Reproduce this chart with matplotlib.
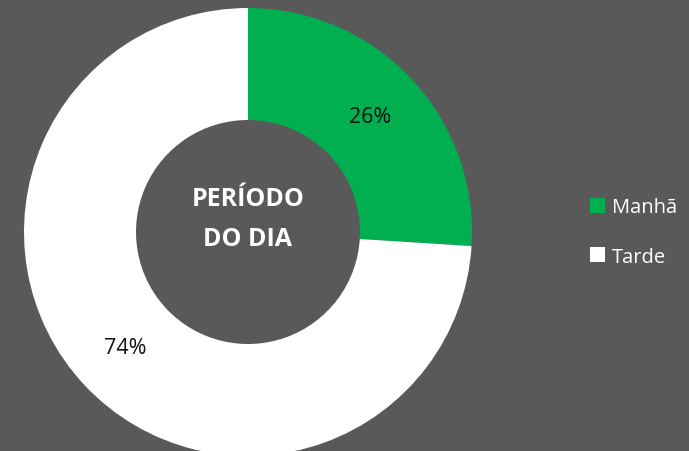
import matplotlib
matplotlib.use("Agg")
import matplotlib.pyplot as plt
from matplotlib.patches import Patch

categories = ["Manhã", "Tarde"]
values = [26, 74]
colors = ["#00B050", "#FFFFFF"]
center_title = "PERÍODO\nDO DIA"
bg = "#595959"

plt.rcParams['font.family'] = ['Open Sans', 'DejaVu Sans']

fig = plt.figure(figsize=(6.89, 4.52), dpi=100)
fig.patch.set_facecolor(bg)
W, H = 689, 452
cx, cy, r = 248, 233, 224
ax = fig.add_axes([(cx - r) / W, (H - cy - r) / H, 2 * r / W, 2 * r / H])
ax.set_facecolor(bg)
wedges, texts, autotexts = ax.pie(values, colors=colors, startangle=90, counterclock=False,
                                  radius=1.0, wedgeprops=dict(width=0.5, linewidth=0),
                                  autopct=lambda p: f"{p:.0f}%", pctdistance=0.75,
                                  textprops=dict(color="#111111", fontsize=15.5))
ax.set_xlim(-1, 1)
ax.set_ylim(-1, 1)
ax.set_aspect('equal')
ax.axis('off')
ax.text(0, 0.062, center_title, ha='center', va='center', color='white', fontsize=18,
        fontweight='bold', linespacing=1.8)

handles = [Patch(facecolor=c, edgecolor='none') for c in colors]
leg = fig.legend(handles, categories, loc='center left', bbox_to_anchor=(590 / W, 1 - 233 / H),
                 frameon=False, labelcolor='white', fontsize=14.5, handlelength=0.75,
                 handleheight=0.75, handletextpad=0.32, labelspacing=1.45, borderpad=0,
                 borderaxespad=0)
fig.savefig("out.png", facecolor=bg)
